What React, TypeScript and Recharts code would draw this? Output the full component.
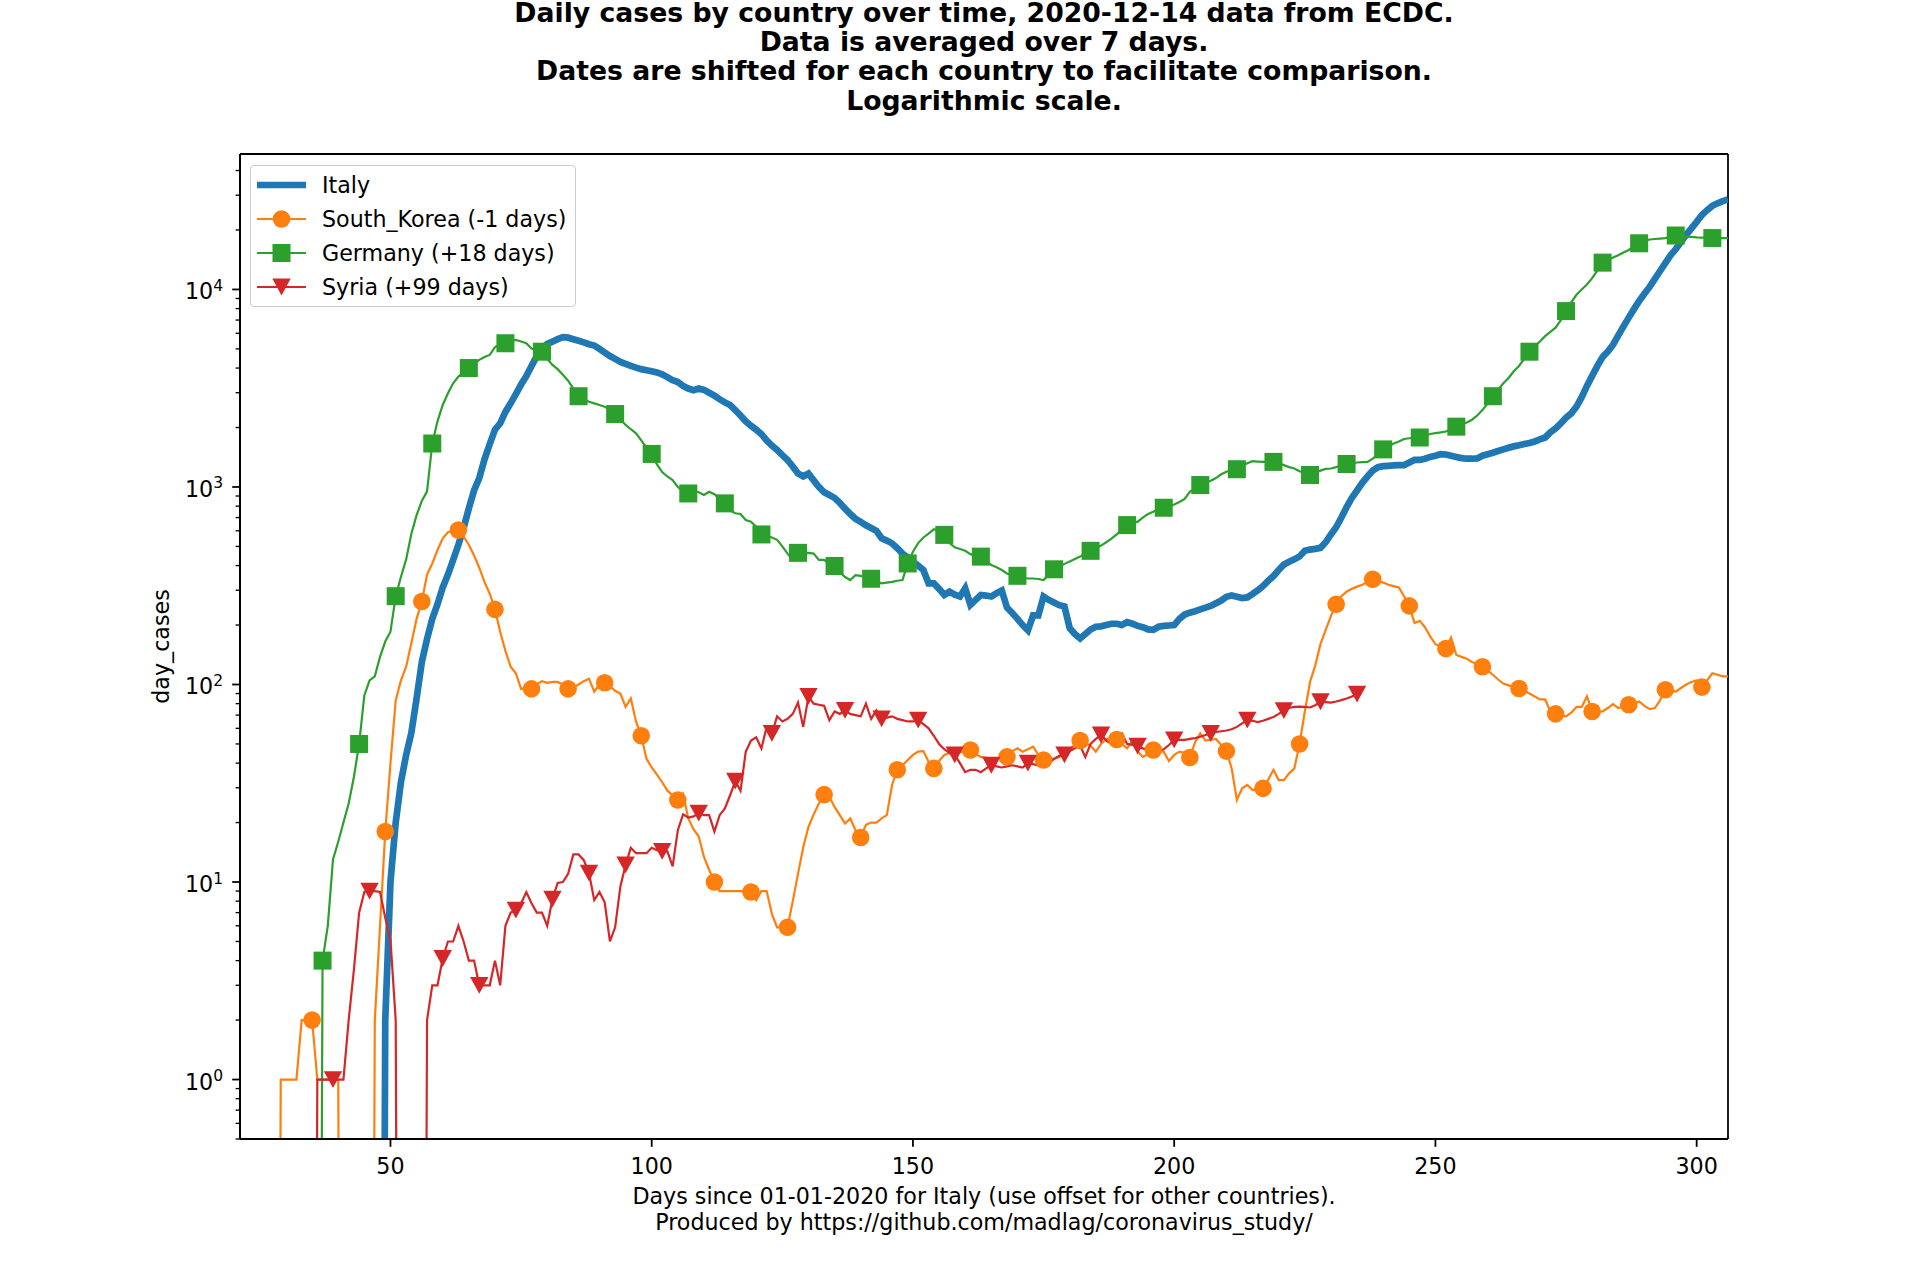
import { LineChart, Line, XAxis, YAxis, Legend, CartesianGrid } from 'recharts'

// Daily cases (7-day average), one value per day starting at *_START
const ITALY_START = 48
const ITALY = [
  0, 2, 10, 20, 32, 44, 57, 85, 130, 170,
  215, 255, 310, 360, 427, 510, 620, 780, 960, 1110,
  1380, 1650, 1950, 2100, 2400, 2650, 2950, 3300, 3640, 4100,
  4600, 5050, 5300, 5440, 5600, 5730, 5700, 5600, 5500, 5400,
  5280, 5200, 5000, 4800, 4600, 4450, 4300, 4200, 4100, 4020,
  3950, 3900, 3850, 3800, 3720, 3600, 3470, 3400, 3250, 3150,
  3090, 3150, 3100, 3000, 2900, 2780, 2680, 2600, 2450, 2300,
  2150, 2040, 1950, 1850, 1720, 1620, 1540, 1450, 1370, 1270,
  1170, 1130, 1170, 1080, 1000, 940, 910, 880, 830, 776,
  730, 690, 665, 640, 620, 600, 550, 535, 518, 490,
  460, 440, 418, 400, 380, 325, 325, 305, 284, 295,
  285, 279, 307, 253, 268, 284, 282, 279, 290, 299,
  245, 230, 215, 200, 188, 224, 224, 279, 268, 260,
  252, 248, 193, 180, 171, 180, 190, 196, 197, 200,
  203, 203, 200, 207, 203, 198, 195, 190, 189, 196,
  198, 199, 200, 215, 226, 231, 235, 240, 245, 250,
  258, 266, 278, 282, 278, 274, 276, 287, 300, 315,
  335, 354, 380, 405, 418, 430, 445, 475, 482, 486,
  492, 525, 575, 625, 700, 790, 880, 960, 1050, 1130,
  1210, 1260, 1275, 1280, 1285, 1290, 1290, 1330, 1370, 1370,
  1390, 1420, 1440, 1465, 1460, 1440, 1420, 1400, 1390, 1390,
  1395, 1440, 1465, 1490, 1520, 1550, 1580, 1605, 1625, 1650,
  1670, 1700, 1740, 1780, 1890, 1980, 2100, 2240, 2360, 2550,
  2850, 3250, 3650, 4100, 4550, 4850, 5250, 5850, 6500, 7200,
  7950, 8750, 9500, 10300, 11300, 12400, 13600, 14900, 16000, 17400,
  18900, 20400, 22000, 23800, 25200, 26500, 27300, 28000, 28600,
]

const KOREA_START = 28
const KOREA = [
  0, 1, 1, 1, 1, 2, 2, 2, 1, 1,
  1, 1, 1, 0, 0, 0, 0, 0, 0, 2,
  6, 18, 40, 83, 105, 123, 162, 215, 263, 360,
  410, 480, 550, 590, 600, 605, 560, 510, 450, 390,
  330, 288, 240, 185, 148, 123, 114, 95, 96, 95,
  100, 104, 102, 103, 103, 100, 95, 97, 100, 104,
  107, 92, 100, 102, 98, 93, 90, 77, 85, 65,
  55, 42, 38, 35, 32, 29, 27.5, 26, 28, 21,
  18.5, 17, 13.4, 11.5, 10, 9, 9, 9, 9, 9,
  9, 8.9, 8.1, 9, 9, 6.9, 5.9, 5.9, 5.9, 8,
  11, 15, 19, 22, 25, 27.7, 27, 24, 21.8, 19.8,
  21, 18.3, 16.8, 19.5, 20, 20, 21, 21.8, 31, 37,
  39, 41.5, 44, 45.7, 46, 40.6, 37.6, 41, 44, 45,
  45, 45.5, 46, 46.6, 44.5, 43, 42.5, 42, 42, 42.5,
  43, 46, 47.5, 45.7, 47, 48.4, 44, 41.5, 42, 42,
  43, 44.5, 47, 49.5, 52, 50.5, 49, 45.7, 50, 53,
  53, 52.7, 50, 47.5, 52, 45.7, 43, 44.5, 46.6, 46,
  45.7, 41, 44, 45.7, 45, 42.7, 51, 56.6, 52, 52.5,
  53, 49.4, 46, 37.6, 26, 29.8, 31, 29.2, 29.5, 29.8,
  33, 37, 32.8, 32.8, 35.5, 37.6, 50, 73, 103, 125,
  160, 189, 222, 255, 280, 295, 305, 313, 320, 330,
  341, 335, 328, 320, 315, 310, 280, 250, 205, 210,
  195, 175, 160, 156, 152, 173, 141, 138, 135, 130,
  127, 123, 118, 112, 106, 101, 99, 97, 95.5, 93,
  90, 87, 84, 84, 73, 71, 70, 69, 72, 77,
  77, 87, 73, 73, 73, 76, 79.5, 76, 77.5, 79,
  80, 82, 78, 75, 76, 83, 94, 93, 92, 96,
  100, 103, 105, 97, 105, 114, 112, 110, 110,
]

const GERMANY_START = 36
const GERMANY = [
  0, 4, 6, 13, 16, 20, 25, 34, 50, 88,
  105, 110, 138, 165, 185, 280, 350, 430, 580, 720,
  850, 950, 1660, 2150, 2600, 2980, 3350, 3620, 3800, 4000,
  4200, 4400, 4550, 4660, 5100, 5300, 5340, 5450, 5550, 5450,
  5340, 5020, 4900, 4840, 4450, 4150, 3950, 3700, 3450, 3150,
  2880, 2780, 2700, 2650, 2600, 2550, 2450, 2340, 2200, 2060,
  1960, 1870, 1720, 1580, 1470, 1300, 1190, 1130, 1085, 1000,
  950, 927, 960, 940, 912, 946, 920, 870, 826, 760,
  736, 730, 680, 667, 630, 575, 565, 555, 540, 500,
  460, 427, 464, 462, 464, 460, 427, 427, 412, 398,
  370, 350, 338, 358, 355, 350, 343, 335, 325, 328,
  331, 335, 338, 410, 470, 520, 555, 580, 611, 600,
  572, 520, 495, 485, 475, 457, 450, 444, 420, 403,
  392, 380, 365, 357, 355, 348, 344, 344, 342, 338,
  360, 383, 395, 408, 420, 432, 444, 460, 475, 490,
  505, 525, 548, 575, 610, 641, 655, 667, 700, 730,
  750, 770, 785, 800, 815, 840, 870, 946, 985, 1023,
  1050, 1075, 1110, 1160, 1195, 1215, 1230, 1270, 1320, 1350,
  1345, 1340, 1340, 1340, 1320, 1290, 1260, 1240, 1200, 1175,
  1150, 1180, 1210, 1235, 1240, 1260, 1285, 1307, 1320, 1330,
  1335, 1340, 1390, 1470, 1550, 1610, 1660, 1700, 1750, 1765,
  1775, 1780, 1820, 1855, 1875, 1890, 1910, 1960, 2020, 2080,
  2120, 2190, 2300, 2450, 2650, 2880, 3100, 3350, 3560, 3850,
  4100, 4450, 4840, 5150, 5450, 5800, 6100, 6400, 7000, 7770,
  8600, 9400, 10000, 10600, 11400, 12500, 13670, 14100, 14500, 14900,
  15400, 15850, 16500, 17130, 17600, 17900, 18000, 18100, 18200, 18400,
  18750, 18600, 18500, 18450, 18350, 18300, 18250, 18200, 18200, 18200, 18200,
]

const SYRIA_START = 35
const SYRIA = [
  0, 1, 1, 1, 1, 1, 1, 2, 3.6, 7,
  8.9, 9, 9, 8.9, 6.6, 5.1, 2, 0, 0, 0,
  0, 0, 2, 3, 3, 4.1, 5, 5, 6, 5,
  4, 4, 3, 3, 3, 4, 3, 6, 7, 7.2,
  7.8, 8.9, 7.8, 7, 7, 6, 8.2, 9.9, 10, 11,
  13.8, 13.8, 12.9, 11.1, 8.1, 8.9, 7.9, 5, 5.9, 9.5,
  12.2, 14.9, 14, 14, 14, 14.9, 14.5, 14.3, 14.3, 12,
  18.3, 22, 21.2, 21.5, 22.3, 21.8, 21.8, 18, 21.8, 23.6,
  27.5, 32.4, 29, 45.7, 52, 54, 47.5, 61, 56.5, 69,
  65, 67, 71, 81, 61, 87, 80, 79, 78, 66,
  73, 71, 74, 71, 70, 69, 80, 67, 74, 67,
  68, 69, 67, 66, 65, 65, 66, 63, 60, 55,
  50, 47, 45, 44, 40, 36, 37, 37, 36, 37.6,
  39, 38.5, 38, 38.5, 39, 38.5, 38, 40, 39.5, 39,
  39.5, 40, 42, 43.5, 44, 46, 47.5, 49, 43, 50,
  53, 55.5, 52, 50, 54, 56.5, 50, 49.5, 48.8, 47.5,
  46.6, 45.7, 46.2, 47, 49.4, 52.4, 52.4, 52.4, 53, 53.5,
  54.4, 55.5, 56.6, 57.5, 58, 58.5, 59.3, 61, 63.5, 66,
  65.5, 64.5, 65.5, 67, 68.5, 71, 73.8, 76, 77, 77.2,
  77, 76.5, 78.5, 81.8, 81.5, 81, 82, 83.3, 85, 87, 89.3,
]

const X_TICKS = [50, 100, 150, 200, 250, 300]
const Y_DECADES = [1, 10, 100, 1000, 10000]
const Y_EXPONENTS = ['0', '1', '2', '3', '4']
const MINOR_STEPS = [2, 3, 4, 5, 6, 7, 8, 9]

const TITLE = [
  'Daily cases by country over time, 2020-12-14 data from ECDC.',
  'Data is averaged over 7 days.',
  'Dates are shifted for each country to facilitate comparison.',
  'Logarithmic scale.',
]
const X_LABEL = [
  'Days since 01-01-2020 for Italy (use offset for other countries).',
  'Produced by https://github.com/madlag/coronavirus_study/',
]
const Y_LABEL = 'day_cases'

const X_DOMAIN = [21.2, 306]
const Y_DOMAIN = [0.5, 48500]
const ZERO_FLOOR = 1e-6 // log axis: zero days drop off the bottom
const MARK_EVERY = 7
const FONT = '"DejaVu Sans", sans-serif'
const FS = 22.2

const toPoints = (start: number, values: number[]) =>
  values.map((v, i) => ({ day: start + i, value: v > 0 ? v : ZERO_FLOOR }))

const SERIES = [
  { name: 'Italy', color: '#1f77b4', width: 6.7, marker: null, markFrom: 0, data: toPoints(ITALY_START, ITALY) },
  { name: 'South_Korea (-1 days)', color: '#ff7f0e', width: 2.2, marker: 'circle', markFrom: 35, data: toPoints(KOREA_START, KOREA) },
  { name: 'Germany (+18 days)', color: '#2ca02c', width: 2.2, marker: 'square', markFrom: 37, data: toPoints(GERMANY_START, GERMANY) },
  { name: 'Syria (+99 days)', color: '#d62728', width: 2.2, marker: 'triangle', markFrom: 39, data: toPoints(SYRIA_START, SYRIA) },
]

const Y_TICKS = [
  ...Y_DECADES,
  ...[0.1, ...Y_DECADES].flatMap((d) => MINOR_STEPS.map((m) => m * d)),
]
  .filter((v) => v >= Y_DOMAIN[0] && v <= Y_DOMAIN[1])
  .sort((a, b) => a - b)

function Marker({ shape, cx, cy, color }: { shape: string; cx: number; cy: number; color: string }) {
  if (shape === 'circle') return <circle cx={cx} cy={cy} r={8.8} fill={color} />
  if (shape === 'square') return <rect x={cx - 9} y={cy - 9} width={18} height={18} fill={color} />
  return (
    <polygon
      points={`${cx - 9.2},${cy - 8.4} ${cx + 9.2},${cy - 8.4} ${cx},${cy + 8.4}`}
      fill={color}
    />
  )
}

const makeDot = (shape: string | null, color: string, markFrom: number) => (props: any) => {
  const { cx, cy, payload, index } = props
  if (!shape || cx == null || cy == null || (payload.day - markFrom) % MARK_EVERY !== 0) {
    return <g key={`dot-${index}`} />
  }
  return (
    <g key={`dot-${index}`}>
      <Marker shape={shape} cx={cx} cy={cy} color={color} />
    </g>
  )
}

function XTick({ x, y, payload }: any) {
  return (
    <g>
      <line x1={x} x2={x} y1={y} y2={y + 7.8} stroke="#000" strokeWidth={1.78} />
      <text x={x} y={y + 34.5} textAnchor="middle" fontSize={FS} fontFamily={FONT} fill="#000">
        {payload.value}
      </text>
    </g>
  )
}

function YTick({ x, y, payload }: any) {
  const exp = Y_DECADES.findIndex((d) => Math.abs(d - payload.value) < 1e-9)
  const major = exp >= 0
  return (
    <g>
      <line
        x1={x}
        x2={x - (major ? 7.8 : 4.4)}
        y1={y}
        y2={y}
        stroke="#000"
        strokeWidth={major ? 1.78 : 1.33}
      />
      {major && (
        <text x={x - 17} y={y + 10} textAnchor="end" fontSize={FS} fontFamily={FONT} fill="#000">
          10
          <tspan dy={-8.5} fontSize={15.5}>
            {Y_EXPONENTS[exp]}
          </tspan>
        </text>
      )}
    </g>
  )
}

function LegendBox() {
  return (
    <div
      style={{
        boxSizing: 'border-box',
        width: 326,
        height: 142,
        paddingTop: 2,
        border: '1.78px solid #cccccc',
        borderRadius: 4,
        background: 'rgba(255,255,255,0.8)',
        fontFamily: FONT,
        fontSize: FS,
        color: '#000',
      }}
    >
      {SERIES.map((s) => (
        <div key={s.name} style={{ display: 'flex', alignItems: 'center', height: 34 }}>
          <svg width={49} height={34} style={{ marginLeft: 6, marginRight: 16, flex: 'none' }}>
            <line x1={0} x2={49} y1={17} y2={17} stroke={s.color} strokeWidth={s.width} />
            {s.marker && <Marker shape={s.marker} cx={24.5} cy={17} color={s.color} />}
          </svg>
          <span style={{ whiteSpace: 'nowrap' }}>{s.name}</span>
        </div>
      ))}
    </div>
  )
}

export default function App() {
  const frame = { stroke: '#000', strokeWidth: 1.78 }
  return (
    <div style={{ position: 'absolute', left: 0, top: 0, width: 1920, height: 1280, background: '#fff' }}>
      <LineChart width={1920} height={1280} margin={{ top: 154, right: 192, bottom: 81, left: 160 }}>
        <CartesianGrid
          stroke="#000"
          strokeWidth={1.78}
          horizontalCoordinatesGenerator={({ offset }: any) => [offset.top, offset.top + offset.height]}
          verticalCoordinatesGenerator={({ offset }: any) => [offset.left, offset.left + offset.width]}
        />
        <XAxis
          dataKey="day"
          type="number"
          domain={X_DOMAIN}
          allowDataOverflow
          ticks={X_TICKS}
          interval={0}
          tickSize={0}
          tickMargin={0}
          tickLine={false}
          tick={<XTick />}
          height={60}
          axisLine={frame}
        />
        <YAxis
          type="number"
          scale="log"
          domain={Y_DOMAIN}
          allowDataOverflow
          ticks={Y_TICKS}
          interval={0}
          tickSize={0}
          tickMargin={0}
          tickLine={false}
          tick={<YTick />}
          width={80}
          axisLine={frame}
        />
        <Legend
          layout="vertical"
          align="center"
          verticalAlign="middle"
          content={() => <LegendBox />}
          wrapperStyle={{ left: 250, top: 165, width: 326, height: 142 }}
        />
        {SERIES.map((s) => (
          <Line
            key={s.name}
            data={s.data}
            dataKey="value"
            name={s.name}
            type="linear"
            stroke={s.color}
            strokeWidth={s.width}
            dot={makeDot(s.marker, s.color, s.markFrom)}
            activeDot={false}
            isAnimationActive={false}
          />
        ))}
      </LineChart>
      <svg
        width={1920}
        height={1280}
        style={{ position: 'absolute', left: 0, top: 0, pointerEvents: 'none' }}
        fontFamily={FONT}
      >
        {TITLE.map((line, i) => (
          <text key={line} x={984} y={21.5 + i * 29.4} textAnchor="middle" fontSize={26.7} fontWeight="bold" fill="#000">
            {line}
          </text>
        ))}
        {X_LABEL.map((line, i) => (
          <text key={line} x={984} y={1204 + i * 26} textAnchor="middle" fontSize={FS} fill="#000">
            {line}
          </text>
        ))}
        <text
          x={169}
          y={646.5}
          transform="rotate(-90 169 646.5)"
          textAnchor="middle"
          fontSize={FS}
          fill="#000"
        >
          {Y_LABEL}
        </text>
      </svg>
    </div>
  )
}
